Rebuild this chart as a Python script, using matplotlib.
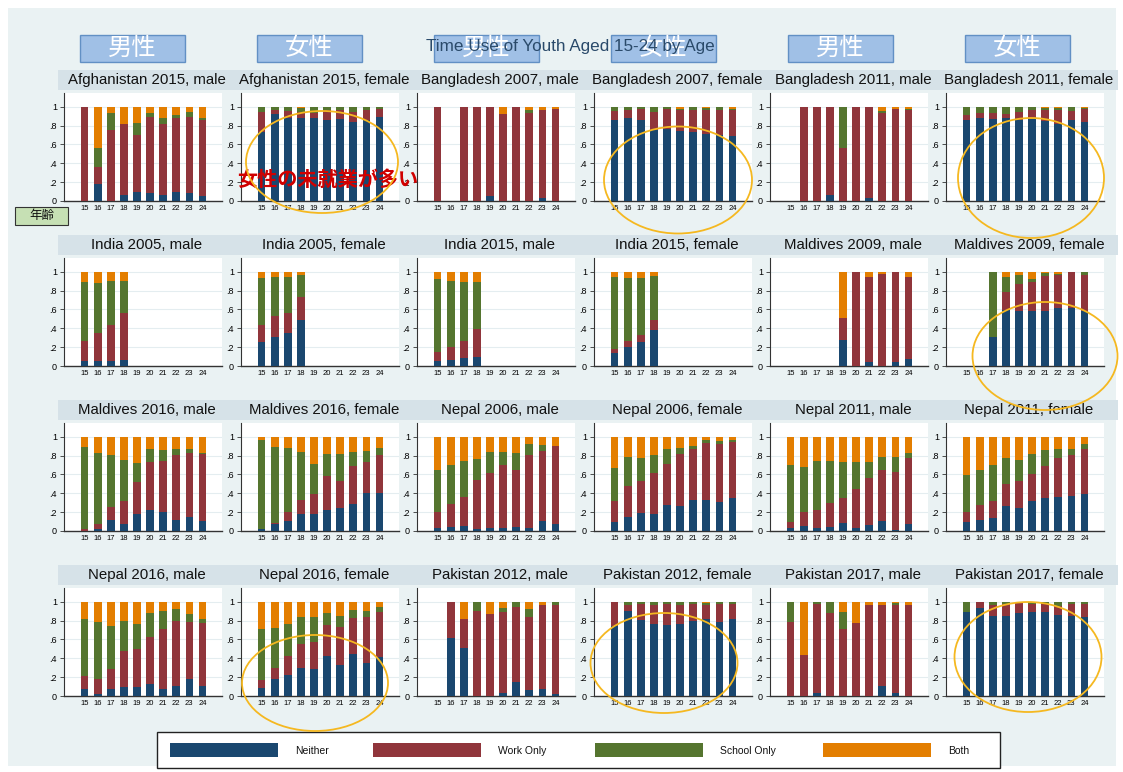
import numpy as np
import matplotlib
matplotlib.use("Agg")
import matplotlib.pyplot as plt
from matplotlib.patches import Rectangle, Ellipse

plt.rcParams['font.family'] = ['Liberation Sans', 'Noto Sans CJK JP', 'DejaVu Sans']

# ---- data: shares by age (15..24); each panel = [neither, work only, school only, both]
ages = list(range(15, 25))
N = None

afg2015_male = [
    [0, .18, 0, .06, .095, .085, .065, .095, .09, .055],
    [1.0, .18, .755, .76, .605, .805, .755, .79, .80, .805],
    [0, .205, .18, 0, .13, .045, .055, .025, .055, .02],
    [0, .435, .065, .18, .17, .065, .125, .09, .055, .12],
]
afg2015_female = [
    [.735, .92, .88, .875, .875, .86, .87, .84, .86, .895],
    [.21, .05, .075, .07, .06, .11, .095, .105, .105, .085],
    [.055, .03, .045, .045, .065, .03, .035, .055, .035, .02],
    [0, 0, 0, .01, 0, 0, 0, 0, 0, 0],
]
bgd2007_male = [
    [0, N, 0, 0, .05, 0, 0, 0, .03, 0],
    [1.0, N, 1.0, 1.0, .95, .92, 1.0, .935, .94, .98],
    [0, N, 0, 0, 0, 0, 0, .035, 0, 0],
    [0, N, 0, 0, 0, .08, 0, .03, .03, .02],
]
bgd2007_female = [
    [.86, .885, .86, .75, .765, .745, .73, .71, .70, .69],
    [.095, .085, .12, .195, .21, .22, .235, .25, .27, .27],
    [.045, .03, .02, .055, .025, .015, .035, .03, .03, .02],
    [0, 0, 0, 0, 0, .02, 0, .01, 0, .02],
]
bgd2011_male = [
    [N, 0, 0, .06, 0, 0, .03, 0, 0, 0],
    [N, 1.0, 1.0, .94, .565, 1.0, .97, .93, .98, .96],
    [N, 0, 0, 0, .435, 0, 0, .025, 0, .015],
    [N, 0, 0, 0, 0, 0, 0, .045, .02, .025],
]
bgd2011_female = [
    [.86, .885, .87, .875, .86, .87, .85, .82, .86, .84],
    [.05, .05, .065, .045, .085, .09, .11, .145, .095, .135],
    [.09, .065, .065, .08, .055, .04, .03, .025, .045, .015],
    [0, 0, 0, 0, 0, 0, .01, .01, 0, .01],
]
ind2005_male = [
    [.05, .05, .055, .065, N, N, N, N, N, N],
    [.215, .305, .375, .50, N, N, N, N, N, N],
    [.63, .53, .475, .335, N, N, N, N, N, N],
    [.105, .115, .095, .10, N, N, N, N, N, N],
]
ind2005_female = [
    [.25, .31, .345, .49, N, N, N, N, N, N],
    [.185, .215, .22, .24, N, N, N, N, N, N],
    [.50, .415, .375, .23, N, N, N, N, N, N],
    [.065, .06, .06, .04, N, N, N, N, N, N],
]
ind2015_male = [
    [.05, .065, .085, .095, N, N, N, N, N, N],
    [.10, .135, .185, .295, N, N, N, N, N, N],
    [.77, .705, .625, .505, N, N, N, N, N, N],
    [.08, .095, .105, .105, N, N, N, N, N, N],
]
ind2015_female = [
    [.135, .20, .25, .38, N, N, N, N, N, N],
    [.045, .065, .08, .105, N, N, N, N, N, N],
    [.765, .67, .605, .465, N, N, N, N, N, N],
    [.055, .065, .065, .05, N, N, N, N, N, N],
]
mdv2009_male = [
    [N, N, N, N, .275, 0, .045, 0, .045, .07],
    [N, N, N, N, .235, 1.0, .90, .98, .955, .875],
    [N, N, N, N, 0, 0, 0, 0, 0, 0],
    [N, N, N, N, .49, 0, .055, .02, 0, .055],
]
mdv2009_female = [
    [N, N, .305, .595, .585, .585, .585, .62, .62, .585],
    [N, N, 0, .185, .285, .31, .365, .35, .38, .38],
    [N, N, .695, .165, .09, .025, .04, .01, 0, .035],
    [N, N, 0, .055, .04, .08, .01, .02, 0, 0],
]
mdv2016_male = [
    [0, .025, .115, .07, .175, .225, .20, .12, .15, .11],
    [.02, .045, .135, .25, .345, .505, .54, .69, .68, .71],
    [.87, .76, .555, .43, .205, .14, .12, .06, .04, .01],
    [.11, .17, .195, .25, .275, .13, .14, .13, .13, .17],
]
mdv2016_female = [
    [.02, .075, .11, .175, .185, .22, .24, .29, .40, .405],
    [0, .005, .09, .155, .21, .365, .285, .395, .335, .40],
    [.945, .815, .675, .51, .315, .235, .295, .155, .115, .07],
    [.035, .105, .125, .16, .29, .18, .18, .16, .15, .125],
]
npl2006_male = [
    [.03, .045, .055, .02, .03, .03, .045, .03, .11, .07],
    [.17, .24, .31, .52, .58, .67, .60, .775, .74, .835],
    [.445, .41, .375, .225, .23, .135, .185, .115, .06, 0],
    [.355, .305, .26, .235, .16, .165, .17, .08, .09, .095],
]
npl2006_female = [
    [.095, .15, .19, .185, .275, .265, .33, .33, .305, .355],
    [.225, .33, .345, .435, .44, .55, .535, .60, .615, .59],
    [.345, .30, .24, .185, .15, .07, .04, .03, .035, .02],
    [.335, .22, .225, .195, .135, .115, .095, .04, .045, .035],
]
npl2011_male = [
    [.03, .055, .03, .045, .08, .03, .065, .105, .01, .07],
    [.07, .145, .195, .255, .275, .42, .50, .54, .615, .70],
    [.605, .475, .515, .44, .375, .28, .165, .135, .165, .06],
    [.295, .325, .26, .26, .27, .27, .27, .22, .21, .17],
]
npl2011_female = [
    [.095, .12, .135, .265, .245, .315, .345, .36, .375, .39],
    [.105, .155, .185, .23, .29, .29, .345, .415, .43, .48],
    [.395, .37, .38, .28, .22, .21, .17, .095, .065, .05],
    [.405, .355, .30, .225, .245, .185, .14, .13, .13, .08],
]
npl2016_male = [
    [.075, .02, .07, .095, .10, .125, .07, .105, .175, .105],
    [.14, .155, .215, .385, .40, .505, .64, .69, .61, .67],
    [.60, .605, .455, .32, .265, .245, .195, .125, .085, .04],
    [.185, .22, .26, .20, .235, .125, .095, .08, .13, .185],
]
npl2016_female = [
    [.08, .185, .225, .30, .285, .425, .33, .45, .355, .415],
    [.09, .11, .195, .25, .29, .33, .40, .375, .485, .48],
    [.54, .43, .345, .29, .265, .13, .12, .085, .065, .045],
    [.29, .275, .235, .16, .16, .115, .15, .09, .095, .06],
]
pak2012_male = [
    [N, .62, .51, 0, 0, .035, .15, .065, .075, .02],
    [N, .38, .31, .905, .87, .86, .795, .77, .895, .95],
    [N, 0, 0, .095, 0, .035, .055, .085, 0, .03],
    [N, 0, .18, 0, .13, .07, 0, .08, .03, 0],
]
pak2012_female = [
    [.745, .905, .805, .765, .755, .765, .80, .815, .79, .815],
    [.255, .065, .175, .205, .225, .20, .18, .155, .19, .165],
    [0, .03, .02, .03, .02, .035, .02, .02, .02, .02],
    [0, 0, 0, 0, 0, 0, 0, .01, 0, 0],
]
pak2017_male = [
    [0, 0, .03, 0, 0, 0, 0, .11, .03, 0],
    [.79, .43, .95, .885, .715, .775, .96, .855, .93, .96],
    [.21, 0, .02, .115, .175, 0, 0, 0, .03, 0],
    [0, .57, 0, 0, .11, .225, .04, .035, .01, .04],
]
pak2017_female = [
    [.89, .93, .85, .85, .875, .895, .895, .86, .85, .84],
    [0, .065, .11, .13, .125, .085, .085, .095, .13, .14],
    [.11, .005, .04, .02, 0, .02, .02, .045, .02, .02],
    [0, 0, 0, 0, 0, 0, 0, 0, 0, 0],
]

panel_titles = [
    "Afghanistan 2015, male", "Afghanistan 2015, female", "Bangladesh 2007, male",
    "Bangladesh 2007, female", "Bangladesh 2011, male", "Bangladesh 2011, female",
    "India 2005, male", "India 2005, female", "India 2015, male",
    "India 2015, female", "Maldives 2009, male", "Maldives 2009, female",
    "Maldives 2016, male", "Maldives 2016, female", "Nepal 2006, male",
    "Nepal 2006, female", "Nepal 2011, male", "Nepal 2011, female",
    "Nepal 2016, male", "Nepal 2016, female", "Pakistan 2012, male",
    "Pakistan 2012, female", "Pakistan 2017, male", "Pakistan 2017, female",
]
panel_data = [
    afg2015_male, afg2015_female, bgd2007_male, bgd2007_female, bgd2011_male, bgd2011_female,
    ind2005_male, ind2005_female, ind2015_male, ind2015_female, mdv2009_male, mdv2009_female,
    mdv2016_male, mdv2016_female, npl2006_male, npl2006_female, npl2011_male, npl2011_female,
    npl2016_male, npl2016_female, pak2012_male, pak2012_female, pak2017_male, pak2017_female,
]
series_names = ["Neither", "Work Only", "School Only", "Both"]
series_colors = ["#1a476f", "#90353b", "#55752f", "#e37e00"]

gender_labels = ["男性", "女性", "男性", "女性", "男性", "女性"]
chart_title = "Time Use of Youth Aged 15-24 by Age"
note_text = "女性の未就業が多い"
age_label = "年齢"

# ---- layout helpers (pixel coordinates, origin top-left)
W, H = 1123, 772
fig = plt.figure(figsize=(W / 100, H / 100), dpi=100)
fig.patch.set_facecolor("white")


def fx(x):
    return x / W


def fy(y):
    return 1 - y / H


def rect_px(x0, y0, x1, y1, **kw):
    r = Rectangle((fx(x0), fy(y1)), fx(x1) - fx(x0), fy(y0) - fy(y1),
                  transform=fig.transFigure, **kw)
    fig.patches.append(r)
    return r


# graph region background
rect_px(8, 8, 1116, 766, facecolor="#eaf2f3", edgecolor="none", zorder=-2)

col_x0 = [64, 241, 417, 594, 770, 946]
row_zero = [201, 366, 531, 696]
plot_w = 158
unit_px = 94.3
ytop = 1.14

for i, (title, data) in enumerate(zip(panel_titles, panel_data)):
    r, c = divmod(i, 6)
    x0 = col_x0[c]
    y0 = row_zero[r]
    ax = fig.add_axes([fx(x0), fy(y0), plot_w / W, ytop * unit_px / H])
    ax.set_zorder(1)
    ax.set_facecolor("white")
    bottom = np.zeros(len(ages))
    for vals, col in zip(data, series_colors):
        v = np.array([np.nan if a is None else a for a in vals], dtype=float)
        ok = ~np.isnan(v)
        ax.bar(np.array(ages)[ok], v[ok], bottom=bottom[ok], width=0.58,
               color=col, linewidth=0, zorder=3)
        bottom[ok] += v[ok]
    ax.set_xlim(13.42, 25.5)
    ax.set_ylim(0, ytop)
    ax.set_yticks([0, .2, .4, .6, .8, 1])
    ax.set_yticklabels(["0", ".2", ".4", ".6", ".8", "1"])
    ax.set_xticks(ages)
    ax.set_xticklabels([str(a) for a in ages])
    ax.tick_params(axis="y", labelsize=6.5, length=3, width=0.6, pad=2, color="#333333")
    ax.tick_params(axis="x", labelsize=5.5, length=0, pad=3)
    ax.yaxis.grid(True, color="#e4edf0", linewidth=0.8, zorder=0)
    ax.set_axisbelow(True)
    for s in ["top", "right"]:
        ax.spines[s].set_visible(False)
    ax.spines["left"].set_color("#333333")
    ax.spines["bottom"].set_color("#333333")
    ax.spines["left"].set_linewidth(0.8)
    ax.spines["bottom"].set_linewidth(1.0)

    # subtitle strip
    rect_px(x0 - 6, y0 - 131, x0 + 172, y0 - 111, facecolor="#d6e2e8",
            edgecolor="none", zorder=1)
    fig.text(fx(x0 + 83), fy(y0 - 121), title, ha="center", va="center",
             fontsize=10.8, color="#111111", zorder=2)

# header boxes and title
for c, lab in enumerate(gender_labels):
    bx = 80 + c * 177
    rect_px(bx, 35, bx + 105, 62, facecolor="#8eb4e3", edgecolor="#4a7ebb",
            linewidth=1.0, alpha=0.8, zorder=4)
    fig.text(fx(bx + 52), fy(48.5), lab, ha="center", va="center",
             fontsize=17.5, color="white", zorder=5)
fig.text(fx(570), fy(47), chart_title, ha="center", va="center",
         fontsize=12.3, color="#2a4a6a", zorder=6)

# annotations
fig.text(fx(328), fy(180), note_text, ha="center", va="center",
         fontsize=14.5, color="#d00000", fontweight="bold", zorder=6)
rect_px(15, 207, 68, 225, facecolor="#c6e0b4", edgecolor="#333333",
        linewidth=0.8, zorder=6)
fig.text(fx(41.5), fy(216), age_label, ha="center", va="center",
         fontsize=9, color="#111111", zorder=7)

ellipses = [(322, 162, 152, 102), (678, 180, 148, 107), (1031, 178, 146, 120),
            (1045, 356, 145, 108), (315, 683, 146, 96), (664, 663, 147, 100),
            (1028, 657, 147, 110)]
for cx, cy, ew, eh in ellipses:
    e = Ellipse((fx(cx), fy(cy)), ew / W, eh / H, transform=fig.transFigure,
                facecolor="none", edgecolor="#f5b820", linewidth=1.3, zorder=8)
    fig.patches.append(e)

# legend
rect_px(157, 732, 1000, 768, facecolor="white", edgecolor="#222222",
        linewidth=1.0, zorder=5)
leg_x = [170, 373, 595, 823]
for lx, name, col in zip(leg_x, series_names, series_colors):
    rect_px(lx, 743, lx + 108, 757, facecolor=col, edgecolor="none", zorder=6)
    fig.text(fx(lx + 125), fy(751), name, ha="left", va="center",
             fontsize=7.5, color="#111111", zorder=7)

fig.savefig("out.png", dpi=100)
